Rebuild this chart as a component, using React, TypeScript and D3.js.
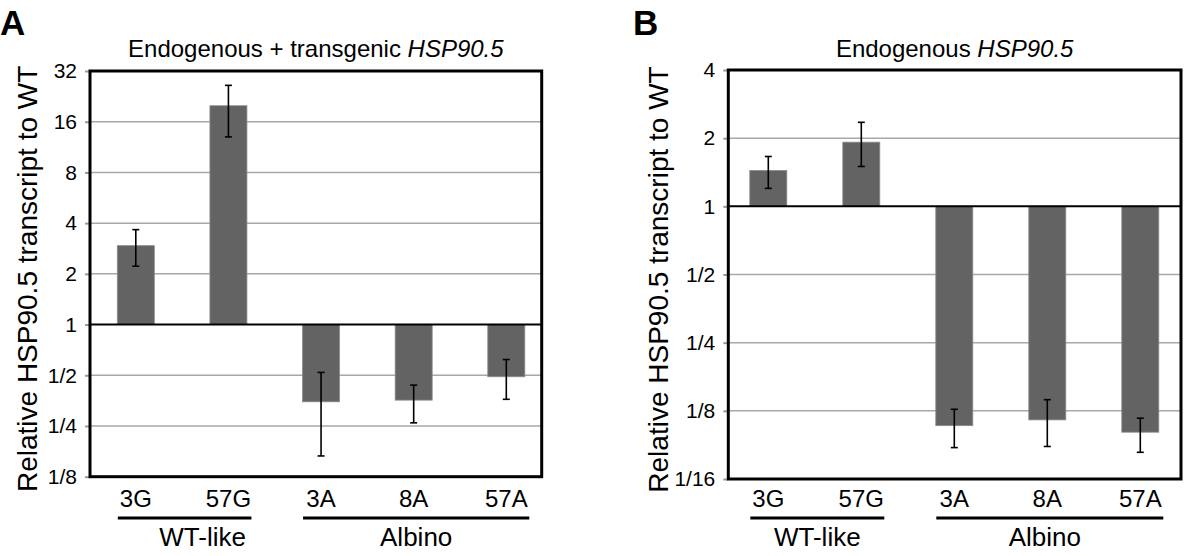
import * as d3 from 'd3';
import React, { useRef, useEffect } from 'react';

// lines shown on the x axis
const categories = ['3G', '57G', '3A', '8A', '57A'];
const groupNames = ['WT-like', 'Albino'];
const groupMembers = [['3G', '57G'], ['3A', '8A', '57A']];

// panel A: endogenous + transgenic
const totalValues = [2.94, 19.9, 0.348, 0.356, 0.49];
const totalErrHigh = [3.66, 26.3, 0.52, 0.437, 0.62];
const totalErrLow = [2.22, 13.0, 0.166, 0.261, 0.36];
const totalTicks = [1 / 8, 1 / 4, 1 / 2, 1, 2, 4, 8, 16, 32];
const totalTickLabels = ['1/8', '1/4', '1/2', '1', '2', '4', '8', '16', '32'];

// panel B: endogenous only
const endoValues = [1.44, 1.92, 0.1075, 0.114, 0.1006];
const endoErrHigh = [1.66, 2.35, 0.127, 0.14, 0.116];
const endoErrLow = [1.2, 1.5, 0.086, 0.087, 0.082];
const endoTicks = [1 / 16, 1 / 8, 1 / 4, 1 / 2, 1, 2, 4];
const endoTickLabels = ['1/16', '1/8', '1/4', '1/2', '1', '2', '4'];

const FONT = "'Liberation Sans', Arial, Helvetica, sans-serif";

const App = () => {
  const ref = useRef(null);

  useEffect(() => {
    const svg = d3.select(ref.current);
    svg.selectAll('*').remove();

    draw(svg, {
      letter: 'A', letterX: 0,
      title: 'Endogenous + transgenic ',
      x0: 90, x1: 541.7, y0: 71, y1: 476.7,
      centers: [135.8, 506.3],
      ylabelX: 36.5,
      groupShift: [18, 0],
      values: totalValues, hi: totalErrHigh, lo: totalErrLow,
      ticks: totalTicks, tickLabels: totalTickLabels,
    });
    draw(svg, {
      letter: 'B', letterX: 633,
      title: 'Endogenous ',
      x0: 728.3, x1: 1181, y0: 70, y1: 479,
      centers: [768.3, 1140.3],
      ylabelX: 668,
      groupShift: [0, -5],
      values: endoValues, hi: endoErrHigh, lo: endoErrLow,
      ticks: endoTicks, tickLabels: endoTickLabels,
    });
  }, []);

  const draw = (svg, p) => {
    const g = svg.append('g').attr('font-family', FONT);

    const y = d3.scaleLog().base(2)
      .domain([p.ticks[0], p.ticks[p.ticks.length - 1]])
      .range([p.y1, p.y0]);
    const x = d3.scalePoint().domain(categories).range(p.centers);
    const bw = 37;

    // panel letter + title
    g.append('text')
      .attr('x', p.letterX).attr('y', 35)
      .attr('font-size', 35).attr('font-weight', 'bold')
      .text(p.letter);
    const t = g.append('text')
      .attr('x', (p.x0 + p.x1) / 2).attr('y', 57)
      .attr('text-anchor', 'middle')
      .attr('font-size', 24);
    t.append('tspan').text(p.title);
    t.append('tspan').attr('font-style', 'italic').text('HSP90.5');

    // gridlines
    g.append('g').selectAll('line')
      .data(p.ticks.filter(d => d !== 1))
      .enter().append('line')
      .attr('x1', p.x0).attr('x2', p.x1)
      .attr('y1', d => y(d)).attr('y2', d => y(d))
      .attr('stroke', '#a8a8a8').attr('stroke-width', 1.5);

    // y ticks
    const yAxis = d3.axisLeft(y)
      .tickValues(p.ticks)
      .tickFormat((d, i) => p.tickLabels[i])
      .tickSize(5)
      .tickPadding(8);
    const ax = g.append('g')
      .attr('transform', `translate(${p.x0},0)`)
      .call(yAxis);
    ax.select('.domain').remove();
    ax.selectAll('line').attr('stroke', '#999').attr('stroke-width', 2);
    ax.selectAll('text')
      .attr('font-size', 21).attr('fill', '#000')
      .attr('font-family', FONT);

    // bars
    g.append('g').selectAll('rect')
      .data(p.values)
      .enter().append('rect')
      .attr('x', (d, i) => x(categories[i]) - bw / 2)
      .attr('width', bw)
      .attr('y', d => Math.min(y(d), y(1)))
      .attr('height', d => Math.abs(y(d) - y(1)))
      .attr('fill', '#636363')
      .attr('stroke', '#8a8a8a').attr('stroke-width', 0.8);

    // baseline at 1
    g.append('line')
      .attr('x1', p.x0).attr('x2', p.x1)
      .attr('y1', y(1)).attr('y2', y(1))
      .attr('stroke', '#000').attr('stroke-width', 2);

    // error bars
    const eb = g.append('g').attr('stroke', '#000').attr('stroke-width', 1.6);
    p.values.forEach((v, i) => {
      const cx = x(categories[i]);
      eb.append('line').attr('x1', cx).attr('x2', cx)
        .attr('y1', y(p.hi[i])).attr('y2', y(p.lo[i]));
      [p.hi[i], p.lo[i]].forEach(e => {
        eb.append('line').attr('x1', cx - 3.5).attr('x2', cx + 3.5)
          .attr('y1', y(e)).attr('y2', y(e));
      });
    });

    // frame
    g.append('rect')
      .attr('x', p.x0).attr('y', p.y0)
      .attr('width', p.x1 - p.x0).attr('height', p.y1 - p.y0)
      .attr('fill', 'none').attr('stroke', '#000').attr('stroke-width', 3);

    // y label
    g.append('text')
      .attr('transform', `translate(${p.ylabelX},${(p.y0 + p.y1) / 2 + 5}) rotate(-90)`)
      .attr('text-anchor', 'middle')
      .attr('font-size', 28)
      .text('Relative HSP90.5 transcript to WT');

    // category labels
    g.append('g').selectAll('text')
      .data(categories)
      .enter().append('text')
      .attr('x', d => x(d)).attr('y', 507)
      .attr('text-anchor', 'middle')
      .attr('font-size', 24)
      .text(d => d);

    // group brackets
    groupNames.forEach((name, k) => {
      const m = groupMembers[k];
      const gx0 = x(m[0]) - 18;
      const gx1 = x(m[m.length - 1]) + 23;
      g.append('line')
        .attr('x1', gx0).attr('x2', gx1)
        .attr('y1', 518).attr('y2', 518)
        .attr('stroke', '#000').attr('stroke-width', 3);
      g.append('text')
        .attr('x', (gx0 + gx1) / 2 + p.groupShift[k]).attr('y', 546)
        .attr('text-anchor', 'middle')
        .attr('font-size', 26)
        .text(name);
    });
  };

  return (
    <div className='chart'>
      <svg ref={ref} width={1200} height={556}
        style={{ position: 'absolute', left: 0, top: 0, background: '#fff' }}>
      </svg>
    </div>
  );
};

export default App;
